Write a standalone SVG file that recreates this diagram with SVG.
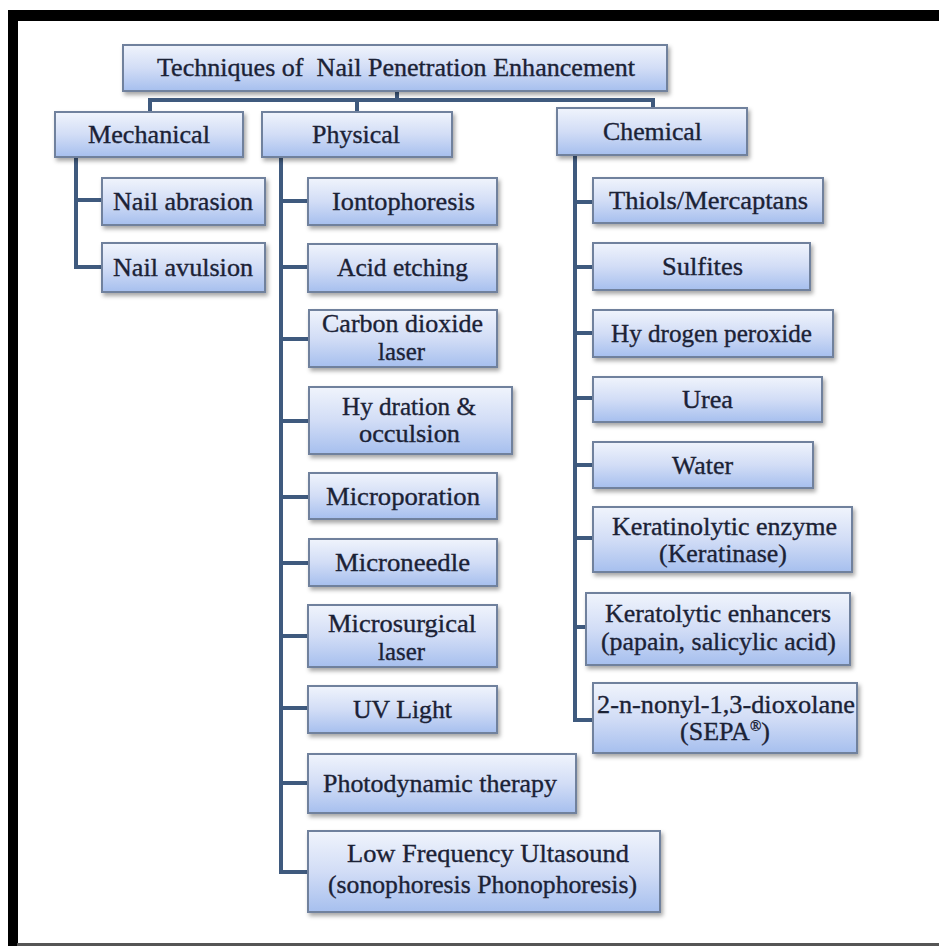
<svg xmlns="http://www.w3.org/2000/svg" width="939" height="946" viewBox="0 0 939 946">
<defs>
<linearGradient id="g" x1="0" y1="0" x2="0" y2="1">
<stop offset="0" stop-color="#f0f4fc"/>
<stop offset="0.5" stop-color="#d2ddf6"/>
<stop offset="1" stop-color="#a6bfee"/>
</linearGradient>
<filter id="sh" x="-10%" y="-10%" width="130%" height="140%">
<feDropShadow dx="2" dy="3" stdDeviation="2" flood-color="#000" flood-opacity="0.35"/>
</filter>
<style>
.box{fill:url(#g);stroke:#6f819d;stroke-width:2;filter:url(#sh)}
.t{font-family:"Liberation Serif","Times New Roman",serif;font-size:26px;fill:#1b2236;stroke:#1b2236;stroke-width:0.35}
.c{fill:none;stroke:#3f5a7e;stroke-width:4}
</style>
</defs>
<rect width="939" height="946" fill="#ffffff"/>
<rect x="8" y="10" width="931" height="11" fill="#000"/>
<rect x="8" y="10" width="10" height="936" fill="#000"/>
<rect x="17" y="943" width="922" height="3" fill="#555"/>

<g id="connectors" class="c">
<path d="M397 91V100M150 112V100H653V108M357 100V112"/>
<path d="M76 157V267H102M76 200H102"/>
<path d="M281 157V872H308M281 201H308M281 267H308M281 339H309M281 421H309M281 497H309M281 563H309M281 636H308M281 708H308M281 783H308"/>
<path d="M575 155V720H593M575 202H593M575 267H593M575 333H593M575 398H593M575 465H593M575 538H593M575 627H586"/>
</g>

<g id="root"><rect class="box" x="123" y="45" width="544" height="46"/><text class="t" x="157" y="76" textLength="478" lengthAdjust="spacingAndGlyphs" xml:space="preserve">Techniques of  Nail Penetration Enhancement</text></g>
<g id="mechanical"><rect class="box" x="55" y="112" width="188" height="45"/><text class="t" x="88" y="143" textLength="122" lengthAdjust="spacingAndGlyphs">Mechanical</text></g>
<g id="physical"><rect class="box" x="262" y="112" width="190" height="45"/><text class="t" x="312" y="143" textLength="88" lengthAdjust="spacingAndGlyphs">Physical</text></g>
<g id="chemical"><rect class="box" x="557" y="108" width="190" height="47"/><text class="t" x="603" y="140" textLength="99" lengthAdjust="spacingAndGlyphs">Chemical</text></g>

<g id="nail-abrasion"><rect class="box" x="102" y="178" width="163" height="47"/><text class="t" x="113" y="210" textLength="140" lengthAdjust="spacingAndGlyphs">Nail abrasion</text></g>
<g id="nail-avulsion"><rect class="box" x="102" y="243" width="163" height="49"/><text class="t" x="113" y="276" textLength="140" lengthAdjust="spacingAndGlyphs">Nail avulsion</text></g>

<g id="iontophoresis"><rect class="box" x="308" y="178" width="189" height="47"/><text class="t" x="332" y="210" textLength="143" lengthAdjust="spacingAndGlyphs">Iontophoresis</text></g>
<g id="acid-etching"><rect class="box" x="308" y="244" width="189" height="48"/><text class="t" x="337" y="276" textLength="131" lengthAdjust="spacingAndGlyphs">Acid etching</text></g>
<g id="co2-laser"><rect class="box" x="309" y="310" width="188" height="57"/><text class="t" x="322" y="332" textLength="161" lengthAdjust="spacingAndGlyphs">Carbon dioxide</text><text class="t" x="378" y="360" textLength="47" lengthAdjust="spacingAndGlyphs">laser</text></g>
<g id="hydration"><rect class="box" x="309" y="387" width="203" height="67"/><text class="t" x="342" y="415" textLength="134" lengthAdjust="spacingAndGlyphs">Hy dration &amp;</text><text class="t" x="359" y="442" textLength="101" lengthAdjust="spacingAndGlyphs">occulsion</text></g>
<g id="microporation"><rect class="box" x="309" y="473" width="188" height="46"/><text class="t" x="326" y="505" textLength="154" lengthAdjust="spacingAndGlyphs">Microporation</text></g>
<g id="microneedle"><rect class="box" x="309" y="539" width="188" height="47"/><text class="t" x="335" y="571" textLength="135" lengthAdjust="spacingAndGlyphs">Microneedle</text></g>
<g id="microsurgical"><rect class="box" x="308" y="605" width="189" height="62"/><text class="t" x="328" y="632" textLength="148" lengthAdjust="spacingAndGlyphs">Microsurgical</text><text class="t" x="378" y="660" textLength="47" lengthAdjust="spacingAndGlyphs">laser</text></g>
<g id="uv-light"><rect class="box" x="308" y="686" width="189" height="47"/><text class="t" x="353" y="718" textLength="99" lengthAdjust="spacingAndGlyphs">UV Light</text></g>
<g id="photodynamic"><rect class="box" x="308" y="754" width="268" height="59"/><text class="t" x="323" y="792" textLength="234" lengthAdjust="spacingAndGlyphs">Photodynamic therapy</text></g>
<g id="low-frequency"><rect class="box" x="308" y="831" width="352" height="81"/><text class="t" x="347" y="862" textLength="282" lengthAdjust="spacingAndGlyphs">Low Frequency Ultasound</text><text class="t" x="328" y="893" textLength="309" lengthAdjust="spacingAndGlyphs">(sonophoresis Phonophoresis)</text></g>

<g id="thiols"><rect class="box" x="593" y="178" width="230" height="45"/><text class="t" x="609" y="209" textLength="199" lengthAdjust="spacingAndGlyphs">Thiols/Mercaptans</text></g>
<g id="sulfites"><rect class="box" x="593" y="243" width="217" height="47"/><text class="t" x="662" y="275" textLength="81" lengthAdjust="spacingAndGlyphs">Sulfites</text></g>
<g id="hydrogen-peroxide"><rect class="box" x="593" y="310" width="240" height="47"/><text class="t" x="611" y="342" textLength="201" lengthAdjust="spacingAndGlyphs">Hy drogen peroxide</text></g>
<g id="urea"><rect class="box" x="593" y="377" width="229" height="45"/><text class="t" x="682" y="408" textLength="51" lengthAdjust="spacingAndGlyphs">Urea</text></g>
<g id="water"><rect class="box" x="593" y="442" width="220" height="46"/><text class="t" x="672" y="474" textLength="61" lengthAdjust="spacingAndGlyphs">Water</text></g>
<g id="keratinolytic"><rect class="box" x="593" y="507" width="259" height="65"/><text class="t" x="612" y="535" textLength="225" lengthAdjust="spacingAndGlyphs">Keratinolytic enzyme</text><text class="t" x="659" y="562" textLength="128" lengthAdjust="spacingAndGlyphs">(Keratinase)</text></g>
<g id="keratolytic"><rect class="box" x="586" y="593" width="264" height="72"/><text class="t" x="605" y="622" textLength="226" lengthAdjust="spacingAndGlyphs">Keratolytic enhancers</text><text class="t" x="601" y="650" textLength="235" lengthAdjust="spacingAndGlyphs">(papain, salicylic acid)</text></g>
<g id="sepa"><rect class="box" x="593" y="683" width="264" height="70"/><text class="t" x="597" y="713" textLength="258" lengthAdjust="spacingAndGlyphs">2-n-nonyl-1,3-dioxolane</text><text class="t" x="725" y="740" text-anchor="middle">(SEPA<tspan font-size="15" dy="-9">®</tspan><tspan dy="9">)</tspan></text></g>
</svg>
